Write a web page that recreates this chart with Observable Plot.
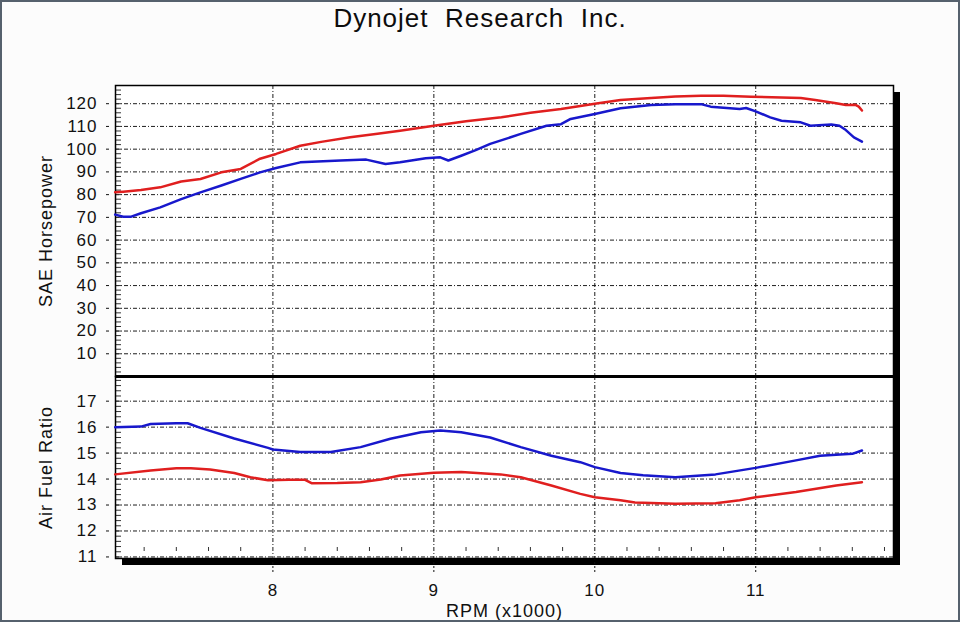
<!DOCTYPE html>
<html><head><meta charset="utf-8">
<script src="https://cdn.jsdelivr.net/npm/d3@7"></script>
<script src="https://cdn.jsdelivr.net/npm/@observablehq/plot@0.6"></script>
<style>
html,body{margin:0;padding:0;background:#fcfcfc;}
#page{position:relative;width:960px;height:622px;overflow:hidden;font-family:"Liberation Sans",Arial,sans-serif;background:#fcfcfc}
#border{position:absolute;left:0;top:0;width:960px;height:622px;box-sizing:border-box;border:2px solid #56616d;pointer-events:none;z-index:10}
#title{position:absolute;left:0;width:960px;top:3px;text-align:center;font-size:26px;letter-spacing:1px;white-space:pre;color:#0d0d0d}
#plotbg{position:absolute;left:115px;top:85px;width:778px;height:473px;background:#fff;box-shadow:7px 7px 0 #000}
.panel{position:absolute;left:0;}
.panel svg text{letter-spacing:1px}
.panel svg [aria-label="y-axis label"] text,
.panel svg [aria-label="x-axis label"] text{font-size:18px}
</style></head>
<body>
<div id="page">
  <div id="title">Dynojet  Research  Inc.</div>
  <div id="plotbg"></div>
  <div id="topPanel" class="panel" style="top:70px"></div>
  <div id="botPanel" class="panel" style="top:370px"></div>
  <div id="border"></div>
</div>
<script>
// ---- Data ----
const rpmTicks = [8, 9, 10, 11];
const rpmMinor = [7.2,7.4,7.6,7.8,8.2,8.4,8.6,8.8,9.2,9.4,9.6,9.8,10.2,10.4,10.6,10.8,11.2,11.4,11.6,11.8];
const hpTicks = [10,20,30,40,50,60,70,80,90,100,110,120];
const hpMinor = d3.range(0, 128, 2);
const afrTicks = [11,12,13,14,15,16,17];
const afrMinor = d3.range(11, 18, 0.2);

const redHpRpm = [7.02,7.07,7.18,7.30,7.43,7.55,7.68,7.80,7.92,8.02,8.17,8.30,8.48,8.65,8.79,9.00,9.20,9.42,9.60,9.79,10.00,10.16,10.35,10.50,10.66,10.80,10.97,11.10,11.28,11.37,11.50,11.56,11.62,11.64,11.66];
const redHp    = [81,81.3,82,83.2,85.8,86.9,89.8,91.3,95.8,97.9,101.5,103.2,105.2,106.8,108.1,110.3,112.3,114,116,117.7,120,121.6,122.5,123.2,123.5,123.5,123.1,122.8,122.5,121.6,120.2,119.4,119.5,118.7,117];

const blueHpRpm = [7.02,7.07,7.12,7.18,7.30,7.43,7.55,7.68,7.80,7.92,8.02,8.17,8.42,8.58,8.70,8.79,8.95,9.04,9.09,9.17,9.26,9.35,9.54,9.70,9.79,9.85,10.00,10.16,10.35,10.50,10.66,10.72,10.90,10.94,11.00,11.09,11.16,11.28,11.34,11.47,11.52,11.56,11.61,11.66];
const blueHp    = [71.2,70.3,70.3,71.8,74.4,78,81,84,86.9,89.8,91.7,94.2,95,95.4,93.5,94.2,96,96.4,95,97.1,99.6,102.3,106.7,110.3,111,113.3,115.5,118,119.4,119.7,119.8,118.7,117.7,118.1,116.6,114,112.5,111.8,110.3,110.8,110.3,108.4,105.2,103.3];

const blueAfrRpm = [7.02,7.18,7.24,7.40,7.47,7.55,7.76,7.97,8.00,8.17,8.36,8.545,8.73,8.92,9.04,9.17,9.35,9.54,9.73,9.91,10.00,10.16,10.30,10.50,10.75,11.00,11.25,11.40,11.50,11.60,11.66];
const blueAfr    = [16.0,16.02,16.12,16.15,16.15,15.97,15.56,15.2,15.14,15.04,15.04,15.23,15.55,15.8,15.87,15.8,15.6,15.23,14.9,14.65,14.46,14.23,14.15,14.07,14.18,14.43,14.72,14.9,14.94,14.97,15.1];

const redAfrRpm = [7.02,7.24,7.40,7.49,7.61,7.76,7.86,7.97,8.10,8.20,8.24,8.40,8.545,8.67,8.79,9.00,9.17,9.415,9.54,9.73,9.91,10.00,10.16,10.25,10.50,10.75,10.90,11.00,11.25,11.50,11.66];
const redAfr    = [14.18,14.33,14.42,14.42,14.37,14.23,14.07,13.95,13.97,13.97,13.84,13.85,13.88,13.98,14.14,14.24,14.27,14.18,14.07,13.75,13.43,13.3,13.18,13.1,13.05,13.07,13.18,13.3,13.5,13.75,13.88];

const xDomain = [7.022, 11.856];
const RED = "#e01f1f", BLUE = "#1818cc";
const toRows = (xs, ys) => xs.map((x, i) => ({x, y: ys[i]}));
const gridStyle = {stroke: "#111", strokeOpacity: 0.95, strokeWidth: 1, strokeDasharray: "4,2,1,2"};
const baseStyle = {background: "transparent", overflow: "visible", fontFamily: "'Liberation Sans', Arial, sans-serif", color: "#111"};

const topPlot = Plot.plot({
  width: 960, height: 310, marginTop: 15, marginBottom: 4, marginLeft: 115, marginRight: 67,
  style: baseStyle,
  x: {domain: xDomain, axis: null},
  y: {domain: [0, 128], axis: null},
  marks: [
    Plot.gridY(hpTicks, gridStyle),
    Plot.gridX(rpmTicks, gridStyle),
    Plot.axisY(hpMinor, {tickSize: 5, dx: 6, tickFormat: () => "", label: null, stroke: "#333"}),
    Plot.axisY(hpTicks, {tickSize: 9, tickPadding: 9, fontSize: 17, label: "SAE Horsepower", labelAnchor: "center", labelOffset: 76, labelArrow: "none", strokeDasharray: "0,6,2"}),
    Plot.frame({stroke: "#000", strokeWidth: 1.5}),
    Plot.ruleY([0], {stroke: "#000", strokeWidth: 3}),
    Plot.line(toRows(redHpRpm, redHp), {x: "x", y: "y", stroke: RED, strokeWidth: 2.5}),
    Plot.line(toRows(blueHpRpm, blueHp), {x: "x", y: "y", stroke: BLUE, strokeWidth: 2.5})
  ]
});
document.getElementById("topPanel").appendChild(topPlot);

const botPlot = Plot.plot({
  width: 960, height: 252, marginTop: 6, marginBottom: 64, marginLeft: 115, marginRight: 67,
  style: baseStyle,
  x: {domain: xDomain, axis: null},
  y: {domain: [10.94, 17.95], axis: null},
  marks: [
    Plot.gridY(afrTicks, gridStyle),
    Plot.gridX(rpmTicks, gridStyle),
    Plot.axisY(afrMinor, {tickSize: 5, dx: 6, tickFormat: () => "", label: null, stroke: "#333"}),
    Plot.axisY(afrTicks, {tickSize: 9, tickPadding: 9, fontSize: 17, label: "Air Fuel Ratio", labelAnchor: "center", labelOffset: 76, labelArrow: "none", strokeDasharray: "0,6,2"}),
    Plot.axisX(rpmMinor, {tickSize: 4, dy: -11, tickFormat: () => "", label: null, stroke: "#333"}),
    Plot.axisX(rpmTicks, {tickSize: 15, tickPadding: 10, fontSize: 17, tickFormat: d => String(d), label: "RPM (x1000)", labelAnchor: "center", labelOffset: 58, labelArrow: "none", strokeDasharray: "2,2"}),
    Plot.frame({stroke: "#000", strokeWidth: 1.5}),
    Plot.line(toRows(redAfrRpm, redAfr), {x: "x", y: "y", stroke: RED, strokeWidth: 2.5}),
    Plot.line(toRows(blueAfrRpm, blueAfr), {x: "x", y: "y", stroke: BLUE, strokeWidth: 2.5})
  ]
});
document.getElementById("botPanel").appendChild(botPlot);
</script>
</body></html>
